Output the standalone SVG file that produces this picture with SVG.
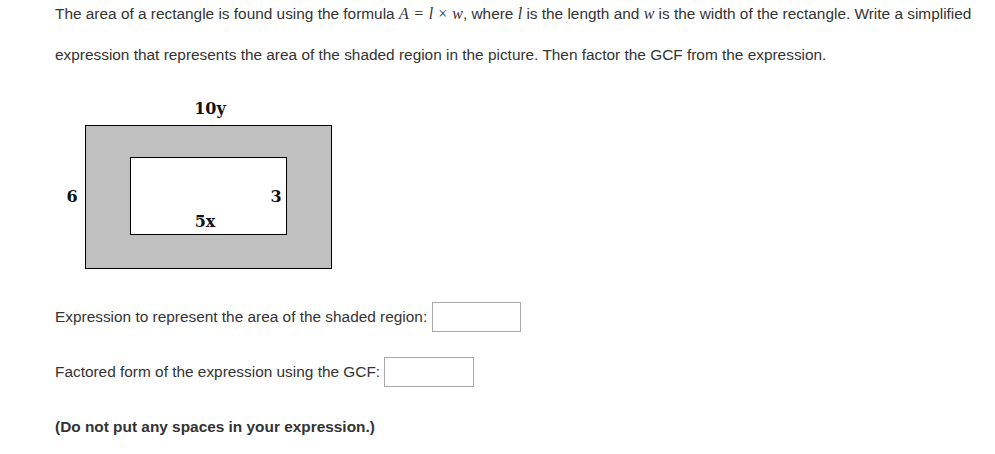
<svg xmlns="http://www.w3.org/2000/svg" width="995" height="454" viewBox="0 0 995 454">
<style>
.t{font-family:"Liberation Sans",Arial,sans-serif;font-size:15.4px;fill:#333}
.m{font-family:"Liberation Serif","DejaVu Serif",serif;font-style:italic;font-size:16px;fill:#333}
.mr{font-family:"Liberation Serif","DejaVu Serif",serif;font-style:normal;font-size:16px;fill:#333}
.lab{font-family:"DejaVu Serif","Liberation Serif",serif;font-weight:bold;font-size:16px;fill:#111}
.box{fill:#fff;stroke:#a9a9a9;stroke-width:1}
</style>
<rect width="995" height="454" fill="#fff"/>
<g id="question">
<text class="t" x="55" y="19">The area of a rectangle is found using the formula <tspan class="m">A</tspan><tspan class="mr" dx="1.5"> = </tspan><tspan class="m" dx="1.5">l</tspan><tspan class="mr" dx="1"> × </tspan><tspan class="m" dx="1">w</tspan>, where <tspan class="m">l</tspan> is the length and <tspan class="m">w</tspan> is the width of the rectangle. Write a simplified</text>
<text class="t" x="55" y="60">expression that represents the area of the shaded region in the picture. Then factor the GCF from the expression.</text>
</g>
<g id="outer-rect"><rect x="85.5" y="125.5" width="246" height="143" fill="#c0c0c0" stroke="#000" stroke-width="1"/></g>
<g id="inner-rect"><rect x="130.5" y="157.5" width="156" height="77" fill="#fff" stroke="#000" stroke-width="1"/></g>
<g id="labels">
<text class="lab" x="210" y="114" text-anchor="middle">10y</text>
<text class="lab" x="72" y="202" text-anchor="middle">6</text>
<text class="lab" x="276" y="202" text-anchor="middle">3</text>
<text class="lab" x="205" y="227" text-anchor="middle">5x</text>
</g>
<g id="answer1">
<text class="t" x="55" y="322">Expression to represent the area of the shaded region:</text>
<rect class="box" x="432.5" y="302.5" width="88" height="29"/>
</g>
<g id="answer2">
<text class="t" x="55" y="377">Factored form of the expression using the GCF:</text>
<rect class="box" x="384.5" y="357.5" width="89" height="29"/>
</g>
<g id="note"><text class="t" x="55" y="432" font-weight="bold">(Do not put any spaces in your expression.)</text></g>
</svg>
